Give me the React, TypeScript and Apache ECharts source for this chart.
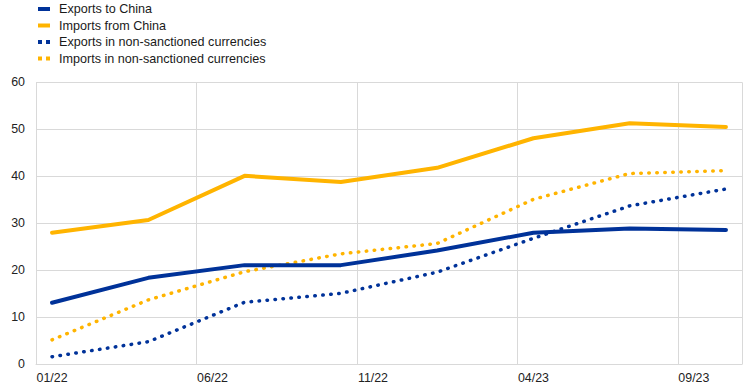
import React, { useEffect, useRef } from "react";
import * as echarts from "echarts";

const months = [
  "01/22", "02/22", "03/22", "04/22", "05/22", "06/22", "07/22", "08/22", "09/22", "10/22", "11/22", "12/22",
  "01/23", "02/23", "03/23", "04/23", "05/23", "06/23", "07/23", "08/23", "09/23", "10/23",
];
// quarterly observations at 01/22, 04/22, 07/22, 10/22, 01/23, 04/23, 07/23, 10/23
const obsMonths = ["01/22", "04/22", "07/22", "10/22", "01/23", "04/23", "07/23", "10/23"];
const exportsToChina = [13.1, 18.4, 21.1, 21.1, 24.2, 28.0, 28.9, 28.6];
const importsFromChina = [28.0, 30.7, 40.1, 38.8, 41.8, 48.1, 51.3, 50.5];
const exportsNonSanctioned = [1.6, 4.8, 13.2, 15.1, 19.6, 26.8, 33.7, 37.3];
const importsNonSanctioned = [5.2, 13.7, 19.7, 23.5, 25.7, 35.1, 40.6, 41.2];

const BLUE = "#003299";
const YELLOW = "#FFB400";

function toMonthly(vals: number[]) {
  return months.map((m) => {
    const i = obsMonths.indexOf(m);
    return i >= 0 ? vals[i] : null;
  });
}

export default function App() {
  const ref = useRef<HTMLDivElement>(null);
  useEffect(() => {
    if (!ref.current) return;
    const chart = echarts.init(ref.current, null, { renderer: "svg" });
    const font = "'Liberation Sans', Arial, sans-serif";
    const solid = (name: string, color: string, vals: number[]) => ({
      name,
      type: "line",
      data: toMonthly(vals),
      connectNulls: true,
      showSymbol: false,
      symbol: "none",
      lineStyle: { color, width: 4, cap: "round", join: "round" },
      itemStyle: { color },
      z: 3,
    });
    const dotted = (name: string, color: string, vals: number[]) => ({
      name,
      type: "line",
      data: toMonthly(vals),
      connectNulls: true,
      showSymbol: false,
      symbol: "none",
      lineStyle: { color, width: 3.5, type: [0.5, 7.5], cap: "round", join: "round" },
      itemStyle: { color },
      z: 2,
    });
    const dotIcon = "path://M0,0h4v4h-4z M8,0h4v4h-4z";
    chart.setOption({
      animation: false,
      textStyle: { fontFamily: font },
      legend: {
        orient: "vertical",
        left: 38,
        top: 2,
        padding: 0,
        itemWidth: 12,
        itemHeight: 4,
        itemGap: 2.5,
        textStyle: { fontFamily: font, fontSize: 12.6, color: "#1a1a1a", lineHeight: 14, padding: [0, 0, 0, 4] },
        data: [
          { name: "Exports to China", icon: "rect" },
          { name: "Imports from China", icon: "rect" },
          { name: "Exports in non-sanctioned currencies", icon: dotIcon },
          { name: "Imports in non-sanctioned currencies", icon: dotIcon },
        ],
      },
      grid: { left: 36, right: 2, top: 82.3, bottom: 25.7, containLabel: false },
      xAxis: {
        type: "category",
        data: months,
        boundaryGap: true,
        axisLine: { show: true, lineStyle: { color: "#d9d9d9", width: 1 } },
        axisTick: { show: false, interval: 4 },
        axisLabel: { interval: 4, color: "#222", fontSize: 12.4, fontFamily: font, margin: 8 },
        splitLine: { show: true, interval: 4, lineStyle: { color: "#d9d9d9", width: 1 } },
      },
      yAxis: {
        type: "value",
        min: 0,
        max: 60,
        interval: 10,
        axisLine: { show: false },
        axisTick: { show: false },
        axisLabel: { color: "#222", fontSize: 12.4, fontFamily: font, margin: 11 },
        splitLine: { show: true, lineStyle: { color: "#d9d9d9", width: 1 } },
      },
      series: [
        dotted("Exports in non-sanctioned currencies", BLUE, exportsNonSanctioned),
        dotted("Imports in non-sanctioned currencies", YELLOW, importsNonSanctioned),
        solid("Exports to China", BLUE, exportsToChina),
        solid("Imports from China", YELLOW, importsFromChina),
      ],
    });
    return () => chart.dispose();
  }, []);
  return <div ref={ref} style={{ width: 744, height: 390, position: "absolute", left: 0, top: 0 }} />;
}
